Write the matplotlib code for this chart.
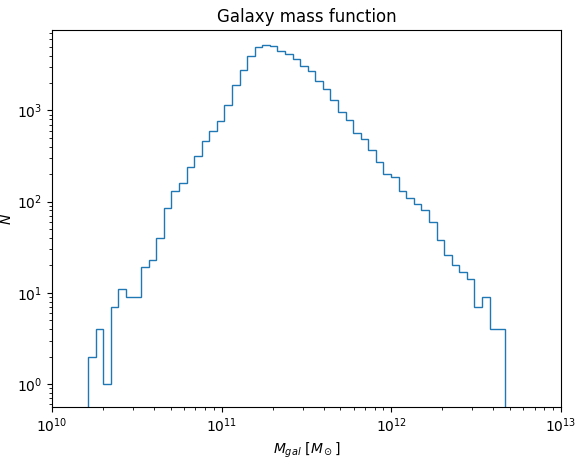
import numpy as np
import matplotlib.pyplot as plt

counts = [2, 4, 1, 7, 11, 9, 9, 19, 23, 40,
          85, 130, 160, 240, 320, 460, 600, 760, 1150, 1900,
          2800, 4000, 4900, 5200, 5100, 4500, 4200, 3700, 3100, 2700,
          2100, 1700, 1300, 950, 780, 560, 480, 370, 270, 200,
          185, 130, 110, 95, 80, 60, 38, 26, 20, 17,
          14, 7, 9, 4, 4]
log_lo, log_hi = 10.212, 12.669

edges = np.logspace(log_lo, log_hi, len(counts) + 1)

fig, ax = plt.subplots(figsize=(5.86, 4.63), dpi=100)
ax.stairs(counts, edges, color='tab:blue', linewidth=1)
ax.set_xscale('log')
ax.set_yscale('log')
ax.set_xlim(1e10, 1e13)
ax.set_ylim(0.56, 7600)
ax.set_xlabel(r'$M_{gal}\ [M_\odot]$')
ax.set_ylabel(r'$N$', labelpad=2)
ax.set_title('Galaxy mass function')
plt.subplots_adjust(left=0.089, right=0.957, top=0.935, bottom=0.121)
plt.savefig('out.png')
